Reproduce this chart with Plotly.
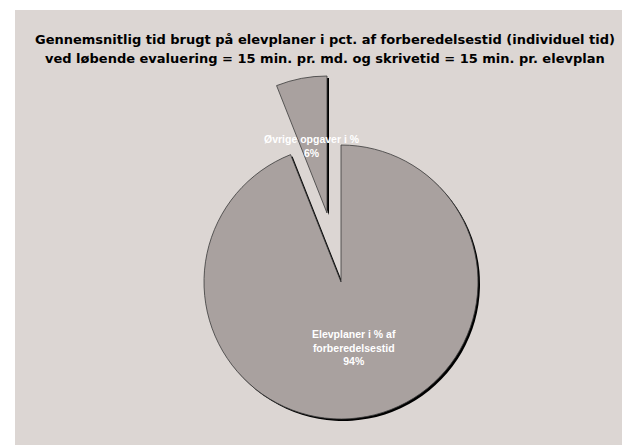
import plotly.graph_objects as go

# ---- data ----
slice_labels = ["Elevplaner i % af forberedelsestid", "Øvrige opgaver i %"]
label_lines = [["Elevplaner i % af", "forberedelsestid"], ["Øvrige opgaver i %"]]
slice_values = [94, 6]
title_lines = [
    "Gennemsnitlig tid brugt på elevplaner i pct. af forberedelsestid (individuel tid)",
    "ved løbende evaluering = 15 min. pr. md. og skrivetid = 15 min. pr. elevplan",
]

OFF = 8                     # default page body margin
PW, PH = 630, 445           # page (window) size
W, H = PW - OFF, PH - OFF   # figure size
BG = "#DCD6D3"
SLICE = "#A9A19F"
CLEAR = "rgba(0,0,0,0)"

R = 137
CX, CY = 341, 282            # main pie centre (page px)
PULL_DX, PULL_DY = -14, -69  # exploded small slice offset (px)
SH = 2                       # shadow offset (px)


def px(x):
    return (x - OFF) / W


def py(y):
    return 1 - (y - OFF) / H


def domain(cx, cy, r):
    return dict(x=[px(cx - r), px(cx + r)], y=[py(cy + r), py(cy - r)])


fig = go.Figure()


def add_pie(cx, cy, visible_idx, color, line_color, line_w):
    colors = [CLEAR] * len(slice_values)
    colors[visible_idx] = color
    lws = [0] * len(slice_values)
    lws[visible_idx] = line_w
    lcs = [CLEAR] * len(slice_values)
    lcs[visible_idx] = line_color
    fig.add_trace(go.Pie(
        labels=slice_labels, values=slice_values, sort=False,
        direction="clockwise", rotation=0,
        marker=dict(colors=colors, line=dict(color=lcs, width=lws)),
        textinfo="none", hoverinfo="skip", showlegend=False,
        domain=domain(cx, cy, R),
    ))


# shadows
add_pie(CX + SH, CY + SH, 0, "#000000", "#000000", 0)
add_pie(CX + PULL_DX + SH, CY + PULL_DY + SH, 1, "#000000", "#000000", 0)
# slices
add_pie(CX, CY, 0, SLICE, "#3a3a3a", 0.8)
add_pie(CX + PULL_DX, CY + PULL_DY, 1, SLICE, "#3a3a3a", 0.8)

annotations = []
for i, line in enumerate(title_lines):
    annotations.append(dict(
        text="<b>%s</b>" % line, x=px(325), y=py(40 + i * 19),
        xref="paper", yref="paper", showarrow=False,
        font=dict(family="DejaVu Sans, Arial, sans-serif", size=13, color="#000000"),
        xanchor="center", yanchor="middle"))

label_pos = [(354, 347), (312, 146)]
for i in range(len(slice_values)):
    txt = "<br>".join(label_lines[i] + ["%d%%" % slice_values[i]])
    x, y = label_pos[i]
    annotations.append(dict(
        text="<b>%s</b>" % txt, x=px(x), y=py(y),
        xref="paper", yref="paper", showarrow=False,
        font=dict(family="Liberation Sans, Arial, sans-serif", size=10.5, color="#FFFFFF"),
        xanchor="center", yanchor="middle"))

fig.update_layout(
    width=W, height=H,
    margin=dict(l=0, r=0, t=0, b=0),
    paper_bgcolor="#FFFFFF", plot_bgcolor="#FFFFFF",
    shapes=[dict(type="rect", xref="paper", yref="paper",
                 x0=px(15), x1=1, y0=0, y1=py(10),
                 fillcolor=BG, line=dict(width=0), layer="below")],
    annotations=annotations,
)

fig.write_html("out.html")
